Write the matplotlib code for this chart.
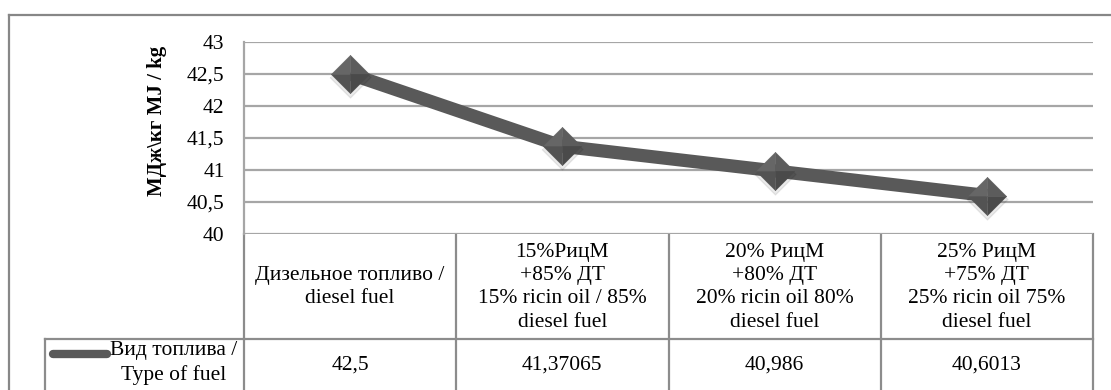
import numpy as np
import matplotlib
matplotlib.use('Agg')
import matplotlib.pyplot as plt
from matplotlib.ticker import FuncFormatter, MultipleLocator
from matplotlib import transforms

plt.rcParams['font.family'] = 'serif'
plt.rcParams['font.serif'] = ['Liberation Serif', 'Times New Roman', 'DejaVu Serif']

categories = ['Дизельное топливо /\ndiesel fuel',
              '15%РицМ\n+85% ДТ\n15% ricin oil / 85%\ndiesel fuel',
              '20% РицМ\n+80% ДТ\n20% ricin oil 80%\ndiesel fuel',
              '25% РицМ\n+75% ДТ\n25% ricin oil 75%\ndiesel fuel']
values = [42.5, 41.37065, 40.986, 40.6013]
series_name = 'Вид топлива /\nType of fuel'
y_label = 'МДж\\кг MJ / kg'

W, H = 1111, 390
fs = 15.5
fig = plt.figure(figsize=(W / 100, H / 100), dpi=100)

# overlay in pixel coordinates for frame and table
over = fig.add_axes([0, 0, 1, 1])
over.set_xlim(0, W)
over.set_ylim(H, 0)
over.axis('off')

ax = fig.add_axes([244 / W, 1 - 234 / H, 849 / W, 192 / H])
x = np.arange(len(values))
ax.set_xlim(-0.5, len(values) - 0.5)
ax.set_ylim(40, 43)
ax.yaxis.set_major_locator(MultipleLocator(0.5))
ax.yaxis.set_major_formatter(FuncFormatter(lambda v, p: ('%g' % v).replace('.', ',')))
ax.tick_params(axis='y', length=0, pad=14, labelsize=fs)
ax.set_xticks([])
ax.grid(axis='y', color='#a6a6a6', linewidth=1.6)
for s in ['top', 'right', 'bottom']:
    ax.spines[s].set_visible(False)
ax.spines['left'].set_color('#a6a6a6')
ax.spines['left'].set_linewidth(1.6)
ax.set_axisbelow(True)

ax.plot(x, values, color='#595959', linewidth=9.5, solid_capstyle='butt', zorder=3)

# bevelled diamond markers with a soft shadow
ms = 27.5
ax.plot(x, values, linestyle='none', marker=[(0, 1), (1, 0), (0, -1), (-1, 0)],
        markersize=ms + 2, color='#000000', alpha=0.08, zorder=3.5,
        transform=ax.transData + transforms.ScaledTranslation(0, -3 / 100, fig.dpi_scale_trans))
facets = [([(0, 0), (-1, 0), (0, 1)], '#666666'),
          ([(0, 0), (0, 1), (1, 0)], '#5c5c5c'),
          ([(0, 0), (1, 0), (0, -1)], '#4a4a4a'),
          ([(0, 0), (0, -1), (-1, 0)], '#535353')]
for verts, c in facets:
    ax.plot(x, values, linestyle='none', marker=verts, markersize=ms,
            color=c, markeredgewidth=0.4, markeredgecolor=c, zorder=4)

# outer chart frame
frame_c = '#878787'
over.plot([9, 9], [15, H + 5], color=frame_c, linewidth=1.6)
over.plot([9, W + 5], [15, 15], color=frame_c, linewidth=1.6)

# data table below the plot
tb = transforms.blended_transform_factory(ax.transData, over.transData)
line_c = '#8c8c8c'
top, mid, bot = 234, 338.5, 392
edges = np.arange(len(values) + 1) - 0.5
for e in edges:
    over.plot([e, e], [top, bot], color=line_c, linewidth=1.6, transform=tb)
over.plot([-0.5, len(values) - 0.5], [mid, mid], color=line_c, linewidth=1.6, transform=tb)
over.plot([45, 244], [mid, mid], color=line_c, linewidth=1.6)
over.plot([45, 45], [mid, bot], color=line_c, linewidth=1.6)

for i, (cat, v) in enumerate(zip(categories, values)):
    over.text(i, (top + mid) / 2 + 1, cat, transform=tb, ha='center', va='center',
              fontsize=fs, linespacing=1.32)
    over.text(i, 365, str(v).replace('.', ','), transform=tb, ha='center', va='center',
              fontsize=fs)

over.plot([53, 107], [354, 354], color='#595959', linewidth=6, solid_capstyle='round')
over.text(237, 363, series_name, ha='right', va='center', multialignment='center',
          fontsize=fs, linespacing=1.4)

fig.text(157 / W, 1 - 121 / H, y_label, rotation=90, ha='center', va='center',
         fontsize=15, fontweight='bold')

fig.savefig('out.png', dpi=100, facecolor='white')
